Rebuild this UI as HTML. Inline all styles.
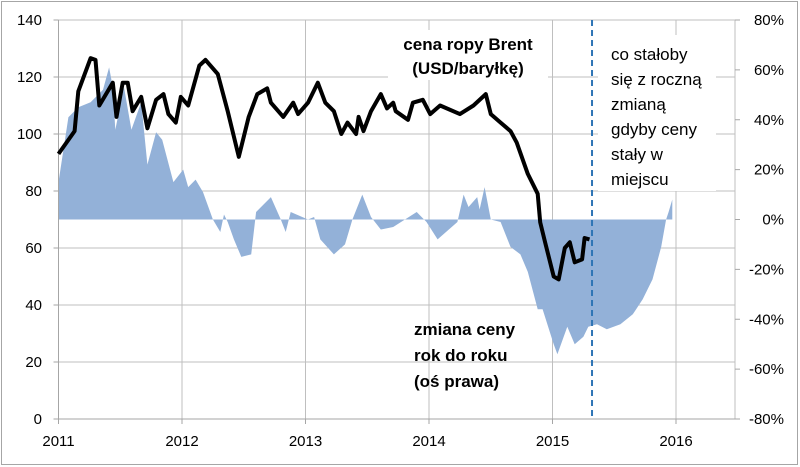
<!DOCTYPE html>
<html><head><meta charset="utf-8"><style>
body{margin:0;background:#fff}
svg{display:block;font-family:"Liberation Sans",sans-serif}
</style></head><body>
<svg id="chart" width="800" height="467"></svg>
<script>
const priceYears=[2011.00,2011.13,2011.16,2011.26,2011.30,2011.33,2011.44,2011.47,2011.52,2011.56,2011.60,2011.67,2011.72,2011.79,2011.85,2011.89,2011.95,2011.99,2012.05,2012.14,2012.19,2012.29,2012.37,2012.46,2012.54,2012.61,2012.69,2012.72,2012.82,2012.90,2012.94,2013.02,2013.10,2013.16,2013.23,2013.29,2013.34,2013.41,2013.43,2013.47,2013.53,2013.61,2013.66,2013.71,2013.73,2013.83,2013.87,2013.95,2014.01,2014.09,2014.25,2014.36,2014.46,2014.50,2014.58,2014.66,2014.71,2014.80,2014.88,2014.90,2014.94,2015.01,2015.05,2015.10,2015.14,2015.18,2015.24,2015.26,2015.30];
const priceValues=[93,101,115,126.6,126,110,118,106,118,118,108,113,102,112,114,107,104,113,110,124,126,121,108,92,106,114,116,111,106,111,107,111,118,111,108,100,104,100,106,101,108,114,109,111,108,105,111,112,107,110,107,110,114,107,104,101,97,86,79,69,62,50,49,60,62,55,56,63.5,63];
const yoyYears=[2011.00,2011.08,2011.16,2011.26,2011.36,2011.41,2011.44,2011.46,2011.53,2011.59,2011.67,2011.72,2011.79,2011.84,2011.93,2012.01,2012.05,2012.11,2012.17,2012.25,2012.31,2012.34,2012.37,2012.42,2012.48,2012.56,2012.60,2012.72,2012.80,2012.84,2012.88,2013.02,2013.07,2013.12,2013.23,2013.32,2013.38,2013.46,2013.53,2013.61,2013.71,2013.90,2013.98,2014.07,2014.23,2014.28,2014.32,2014.39,2014.41,2014.45,2014.50,2014.58,2014.66,2014.74,2014.80,2014.88,2014.92,2015.01,2015.04,2015.12,2015.18,2015.25,2015.29,2015.36,2015.44,2015.55,2015.65,2015.73,2015.81,2015.88,2015.92,2015.94,2015.97];
const yoyValues=[15,41,45,47,52,61,53,36,53,36,47,22,35,32,15,20,13,16,11,0,-5,2,-1,-8,-15,-14,3,9,0,-5,3,0,1,-8,-14,-10,0,10,1,-4,-3,3,-1,-8,-1,10,5,9,4,13,0,-1,-11,-14,-21,-36,-36,-50,-54,-43,-50,-47,-43,-42,-44,-42,-38,-32,-24,-11,0,3,8];
const leftTicks=[0,20,40,60,80,100,120,140];
const rightTicks=[-80,-60,-40,-20,0,20,40,60,80];
const yearTicks=[2011,2012,2013,2014,2015,2016];
const markerYear=2015.32;

const NS="http://www.w3.org/2000/svg";
const svg=document.getElementById('chart');
const X0=58.5,PX=123.5,XR=735,YB=419,YT=20;
const xs=y=>X0+(y-2011)*PX;
const yl=v=>YB-(v/140)*(YB-YT);
const yr=p=>YB-((p+80)/160)*(YB-YT);
function mk(tag,attrs,parent){const e=document.createElementNS(NS,tag);for(const k in attrs)e.setAttribute(k,attrs[k]);(parent||svg).appendChild(e);return e;}

const border=mk('rect',{x:1.5,y:1.5,width:796,height:463,fill:'#fff',stroke:'#a6a6a6'});



const grid=mk('g',{stroke:'#bfbfbf','stroke-width':1});


leftTicks.forEach(v=>{if(v>0)mk('line',{x1:X0,x2:XR,y1:yl(v),y2:yl(v)},grid);});
yearTicks.forEach(y=>{mk('line',{x1:xs(y),x2:xs(y),y1:YT,y2:YB},grid);});
mk('line',{x1:XR,x2:XR,y1:YT,y2:YB},grid);

// area
let d='M'+xs(yoyYears[0])+','+yr(0);
yoyYears.forEach((y,i)=>{d+=' L'+xs(y).toFixed(1)+','+yr(yoyValues[i]).toFixed(1);});
d+=' L'+xs(yoyYears[yoyYears.length-1])+','+yr(0)+' Z';
const area=mk('path',{d:d,fill:'#93b1d8'});



// axes
const axes=mk('g',{stroke:'#a6a6a6','stroke-width':1});


mk('line',{x1:X0,x2:X0,y1:YT,y2:YB+5},axes);
mk('line',{x1:X0-5,x2:XR,y1:YB,y2:YB},axes);
leftTicks.forEach(v=>mk('line',{x1:X0-5,x2:X0,y1:yl(v),y2:yl(v)},axes));
rightTicks.forEach(v=>mk('line',{x1:XR,x2:XR+5,y1:yr(v),y2:yr(v)},axes));
yearTicks.forEach(y=>mk('line',{x1:xs(y),x2:xs(y),y1:YB,y2:YB+5},axes));

// annotation box backgrounds
const ann=mk('rect',{x:598,y:35,width:118,height:156,fill:'#fff'});


const t1bg=mk('rect',{x:388,y:30,width:160,height:50,fill:'#fff'});



// price line
let pd='';
priceYears.forEach((y,i)=>{pd+=(i?' L':'M')+xs(y).toFixed(1)+','+yl(priceValues[i]).toFixed(1);});
const line=mk('path',{d:pd,fill:'none',stroke:'#000','stroke-width':4,'stroke-linejoin':'round'});



const dash=mk('line',{x1:xs(markerYear),x2:xs(markerYear),y1:YT,y2:YB,stroke:'#2e75b6','stroke-width':2,'stroke-dasharray':'6,4'});



// tick labels
leftTicks.forEach(v=>{const t=mk('text',{x:42,y:yl(v)+5,'text-anchor':'end','font-size':15,fill:'#000'});t.textContent=v;

});
rightTicks.forEach(v=>{const t=mk('text',{x:784,y:yr(v)+5,'text-anchor':'end','font-size':15,fill:'#000'});t.textContent=v+'%';

});
yearTicks.forEach(y=>{const t=mk('text',{x:xs(y),y:446,'text-anchor':'middle','font-size':15,fill:'#000'});t.textContent=y;

});

function label(lines,x,y,lh,bold,name,anchor){
  const g=mk('g',{});
  
  
  lines.forEach((s,i)=>{const t=mk('text',{x:x,y:y+i*lh,'font-size':17,'font-weight':bold?'bold':'normal','text-anchor':anchor||'start',fill:'#000'},g);t.textContent=s;});
}
label(['cena ropy Brent','(USD/baryłkę)'],468,50,24,true,'price-series-label','middle');
label(['zmiana ceny','rok do roku','(oś prawa)'],414,335,26,true,'yoy-series-label');
label(['co stałoby','się z roczną','zmianą','gdyby ceny','stały w','miejscu'],611,60,25,false,'projection-note');
</script>
</body></html>
